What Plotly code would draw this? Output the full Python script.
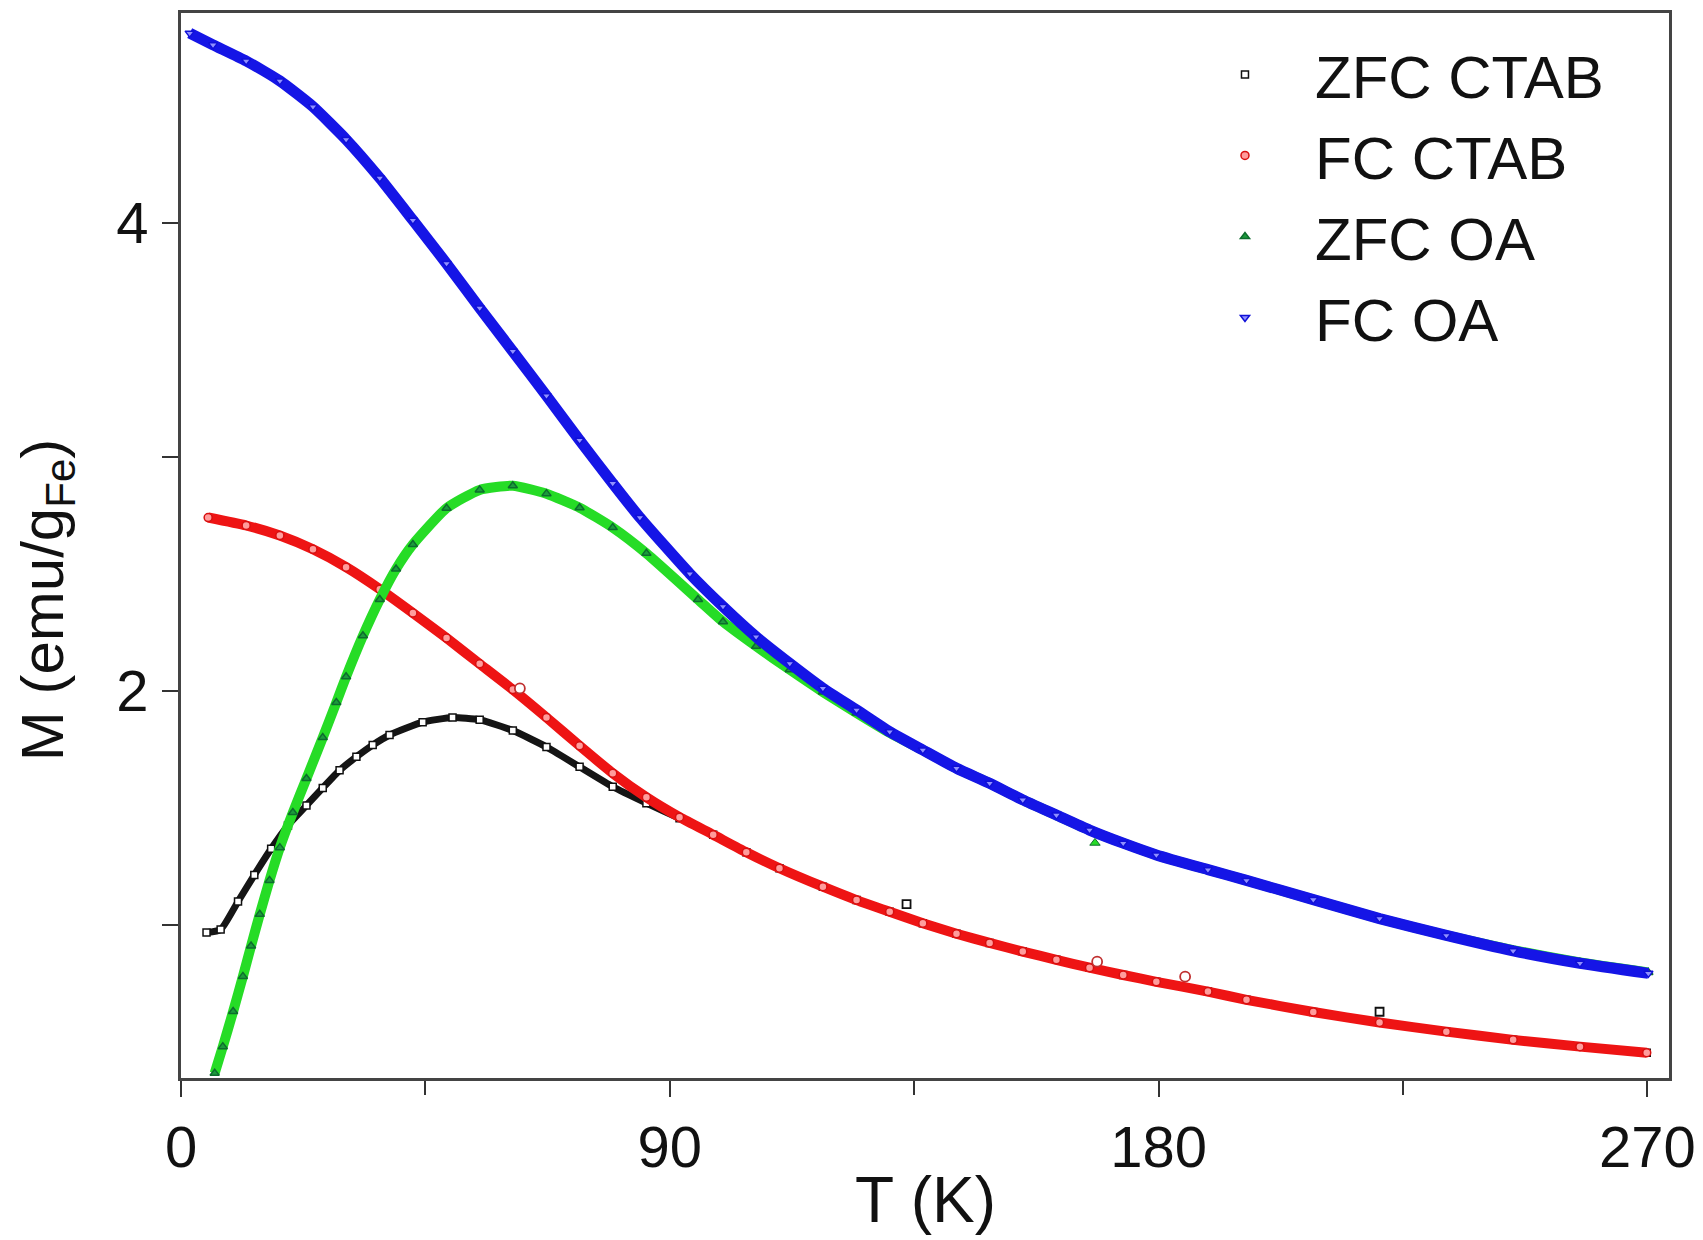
import plotly.graph_objects as go

# ---- data (T in K, M in emu/g_Fe) ----
zfc_ctab_T = [4.7, 7.3, 10.5, 13.5, 16.6, 19.7, 23.1, 26.1, 29.2, 32.3, 35.3, 38.4, 44.5, 50.0, 55.0, 61.1,
              67.3, 73.4, 79.5, 85.7, 91.8, 98.0, 104.1, 110.2, 118.2, 124.4, 130.5, 136.6, 142.8, 148.9,
              155.0, 161.2, 167.3, 173.5, 179.6, 189.1, 196.2, 208.5, 220.7, 233.0, 245.3, 257.6, 269.9]
zfc_ctab_M = [0.967, 0.980, 1.100, 1.213, 1.325, 1.425, 1.510, 1.585, 1.660, 1.718, 1.768, 1.811, 1.866, 1.886,
              1.876, 1.830, 1.760, 1.675, 1.590, 1.520, 1.455, 1.385, 1.310, 1.242, 1.163, 1.106, 1.056,
              1.007, 0.962, 0.923, 0.886, 0.851, 0.817, 0.786, 0.757, 0.715, 0.680, 0.628, 0.583, 0.544,
              0.509, 0.480, 0.454]

fc_ctab_T = [5.0, 12.0, 18.2, 24.3, 30.4, 36.6, 42.7, 48.9, 55.0, 61.1, 67.3, 73.4, 79.5, 85.7, 91.8, 98.0,
             104.1, 110.2, 118.2, 124.4, 130.5, 136.6, 142.8, 148.9, 155.0, 161.2, 167.3, 173.5, 179.6,
             189.1, 196.2, 208.5, 220.7, 233.0, 245.3, 257.6, 269.9]
fc_ctab_M = [2.740, 2.706, 2.663, 2.604, 2.528, 2.434, 2.332, 2.225, 2.115, 2.005, 1.886, 1.765, 1.648, 1.545,
             1.460, 1.385, 1.310, 1.242, 1.163, 1.106, 1.056, 1.007, 0.962, 0.923, 0.886, 0.851, 0.817,
             0.786, 0.757, 0.715, 0.680, 0.628, 0.583, 0.544, 0.509, 0.480, 0.454]

zfc_oa_T = [6.2, 7.7, 9.6, 11.4, 12.9, 14.5, 16.3, 18.2, 20.6, 23.1, 26.1, 28.6, 30.4, 33.5, 36.6, 39.6,
            42.7, 48.9, 55.0, 61.1, 67.3, 73.4, 79.5, 85.7, 95.2, 99.8, 105.9, 112.1, 118.2, 124.4, 130.5,
            136.6, 142.8, 148.9, 155.0, 161.2, 167.3, 173.5, 179.6, 189.1, 196.2, 208.5, 220.7, 233.0,
            245.3, 257.6, 270.2]
zfc_oa_M = [0.366, 0.480, 0.630, 0.780, 0.910, 1.045, 1.190, 1.330, 1.480, 1.625, 1.800, 1.950, 2.060, 2.235,
            2.390, 2.520, 2.625, 2.780, 2.858, 2.876, 2.842, 2.782, 2.697, 2.587, 2.390, 2.295, 2.190,
            2.090, 1.995, 1.905, 1.820, 1.747, 1.669, 1.605, 1.534, 1.469, 1.405, 1.349, 1.299, 1.236,
            1.190, 1.108, 1.027, 0.955, 0.892, 0.840, 0.797]

fc_oa_T = [1.6, 5.9, 12.0, 18.2, 24.3, 30.4, 36.6, 42.7, 48.9, 55.0, 61.1, 67.3, 73.4, 79.5, 84.5, 93.7,
           99.8, 105.9, 112.1, 118.2, 124.4, 130.5, 136.6, 142.8, 148.9, 155.0, 161.2, 167.3, 173.5,
           179.6, 189.1, 196.2, 208.5, 220.7, 233.0, 245.3, 257.6, 270.2]
fc_oa_M = [4.809, 4.759, 4.690, 4.605, 4.495, 4.355, 4.190, 4.010, 3.825, 3.635, 3.450, 3.260, 3.070, 2.886,
           2.740, 2.500, 2.360, 2.231, 2.117, 2.011, 1.918, 1.825, 1.747, 1.669, 1.605, 1.534, 1.469,
           1.405, 1.349, 1.299, 1.236, 1.190, 1.108, 1.027, 0.955, 0.889, 0.836, 0.793]

# isolated stray points visible off the bands
zfc_ctab_stray_T = [133.6, 220.7]
zfc_ctab_stray_M = [1.089, 0.629]
fc_ctab_stray_T = [62.4, 168.7, 184.9]
fc_ctab_stray_M = [2.010, 0.843, 0.779]
zfc_oa_stray_T = [168.3]
zfc_oa_stray_M = [1.350]

legend_names = ["ZFC CTAB", "FC CTAB", "ZFC OA", "FC OA"]

styles = {
    "ZFC CTAB": dict(line="#151515", lw=7, sym="square", fill="white", edge="#111111", size=7),
    "FC CTAB": dict(line="#ee1414", lw=10, sym="circle", fill="#ff9c9c", edge="#d80f0f", size=8),
    "ZFC OA": dict(line="#26dc26", lw=10, sym="triangle-up", fill="#1c9a3c", edge="#0d6d2d", size=8),
    "FC OA": dict(line="#1515e6", lw=11, sym="triangle-down", fill="#9090ff", edge="#1010d8", size=8),
}
data = {
    "ZFC CTAB": (zfc_ctab_T, zfc_ctab_M),
    "FC CTAB": (fc_ctab_T, fc_ctab_M),
    "ZFC OA": (zfc_oa_T, zfc_oa_M),
    "FC OA": (fc_oa_T, fc_oa_M),
}

fig = go.Figure()
for name in legend_names:
    T, M = data[name]
    s = styles[name]
    fig.add_trace(go.Scatter(x=T, y=M, mode="lines",
                             line=dict(color=s["line"], width=s["lw"], shape="spline", smoothing=0.5),
                             showlegend=False, hoverinfo="skip"))
    fig.add_trace(go.Scatter(x=T, y=M, mode="markers", name=name,
                             marker=dict(symbol=s["sym"], size=s["size"], color=s["fill"],
                                         line=dict(color=s["edge"], width=1.5))))

fig.add_trace(go.Scatter(x=zfc_ctab_stray_T, y=zfc_ctab_stray_M, mode="markers", showlegend=False,
                         marker=dict(symbol="square", size=8, color="white", line=dict(color="#111", width=1.8))))
fig.add_trace(go.Scatter(x=fc_ctab_stray_T, y=fc_ctab_stray_M, mode="markers", showlegend=False,
                         marker=dict(symbol="circle", size=10, color="white", line=dict(color="#c03030", width=1.8))))
fig.add_trace(go.Scatter(x=zfc_oa_stray_T, y=zfc_oa_stray_M, mode="markers", showlegend=False,
                         marker=dict(symbol="triangle-up", size=9, color="#26dc26", line=dict(color="#0d6d2d", width=1))))

font_family = "Liberation Sans, Arial, sans-serif"
fig.update_layout(
    width=1703, height=1240,
    # the page body adds an 8 px offset, compensated here
    margin=dict(l=173, r=42, t=5, b=170),
    paper_bgcolor="white", plot_bgcolor="white",
    font=dict(family=font_family, color="#111111"),
    showlegend=True,
    legend=dict(x=0.668, y=0.985, xanchor="left", yanchor="top", bgcolor="rgba(0,0,0,0)",
                font=dict(size=60, family=font_family, color="#111111"), itemwidth=130, tracegroupgap=0),
    annotations=[
        dict(text="T (K)", xref="paper", yref="paper", x=0.5, y=-0.1146, xanchor="center", yanchor="middle",
             showarrow=False, font=dict(size=64, family=font_family, color="#111111")),
        dict(text="M (emu/g<sub>Fe</sub>)", xref="paper", yref="paper", x=-0.0905, y=0.449,
             xanchor="center", yanchor="middle", textangle=-90, showarrow=False,
             font=dict(size=60, family=font_family, color="#111111")),
    ],
)
fig.update_xaxes(
    range=[0, 274], tickvals=[0, 90, 180, 270], ticks="outside", ticklen=16, tickwidth=2, tickcolor="#333",
    minor=dict(tickvals=[45, 135, 225], ticks="outside", ticklen=14, tickwidth=2, tickcolor="#333"),
    showline=True, linewidth=3, linecolor="#444", mirror=True, showgrid=False, zeroline=False,
    tickfont=dict(size=58), ticklabelstandoff=0, automargin=False,
)
fig.update_yaxes(
    range=[0.346, 4.895], tickvals=[2, 4], ticks="outside", ticklen=16, tickwidth=2, tickcolor="#333",
    minor=dict(tickvals=[1, 3], ticks="outside", ticklen=16, tickwidth=2, tickcolor="#333"),
    showline=True, linewidth=3, linecolor="#444", mirror=True, showgrid=False, zeroline=False,
    tickfont=dict(size=58), ticklabelstandoff=2, automargin=False,
)

fig.write_html("out.html")
